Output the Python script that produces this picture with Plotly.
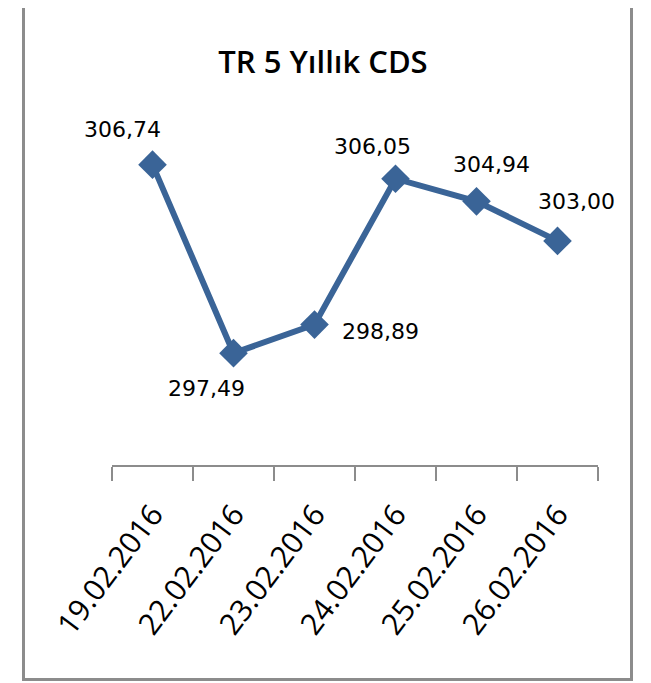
import plotly.graph_objects as go

dates = ["19.02.2016", "22.02.2016", "23.02.2016", "24.02.2016", "25.02.2016", "26.02.2016"]
cds = [306.74, 297.49, 298.89, 306.05, 304.94, 303.00]
labels = ["306,74", "297,49", "298,89", "306,05", "304,94", "303,00"]
title_text = "TR 5 Yıllık CDS"

# label offsets (pixels) relative to each point
label_dx = [-30, -27, 66, -23, 15, 19]
label_dy = [35, -35, -7, 32, 37, 39]

# page has an 8px body margin; figure is sized to fill the rest of the window
OFF = 8
W, H = 651 - OFF, 683 - OFF
L, R, T, B = 112 - OFF, 53, 139 - OFF, 218
pw, ph = W - L - R, H - T - B

def px2paper_x(px):
    return (px - OFF - L) / pw

def px2paper_y(py):
    return (H - B - (py - OFF)) / ph

line_color = "#3a6497"

fig = go.Figure()
fig.add_trace(go.Scatter(
    x=dates, y=cds, mode="lines+markers",
    line=dict(color=line_color, width=6),
    marker=dict(symbol="diamond", size=22, color=line_color),
    hoverinfo="skip", showlegend=False,
))

for d, v, t, dx, dy in zip(dates, cds, labels, label_dx, label_dy):
    fig.add_annotation(x=d, y=v, text=t, showarrow=False,
                       xshift=dx, yshift=dy,
                       font=dict(family="DejaVu Sans", size=22, color="#000000"))

fig.add_shape(type="rect", xref="paper", yref="paper",
              x0=px2paper_x(23.5), x1=px2paper_x(631.5),
              y0=px2paper_y(679.5), y1=px2paper_y(2.5),
              line=dict(color="#8c8c8c", width=3), layer="below")

fig.update_layout(
    width=W, height=H,
    margin=dict(l=L, r=R, t=T, b=B),
    paper_bgcolor="white", plot_bgcolor="white",
    title=dict(text=title_text, x=(323 - OFF) / W, xanchor="center",
               y=1 - (62 - OFF) / H, yanchor="middle", yref="container",
               font=dict(family="Open Sans", size=31, weight=600, color="#000000")),
    xaxis=dict(
        type="category", tickson="boundaries", ticks="outside", ticklen=14,
        tickcolor="#8c8c8c", tickwidth=1.5,
        showline=True, linecolor="#8c8c8c", linewidth=1.5,
        showgrid=False, zeroline=False, tickangle=-53,
        ticklabelstandoff=18,
        tickfont=dict(family="Open Sans", size=30, color="#000000"),
        range=[-0.5, len(dates) - 0.5],
    ),
    yaxis=dict(range=[292, 308], visible=False, showgrid=False, zeroline=False),
)

fig.write_html("out.html")
